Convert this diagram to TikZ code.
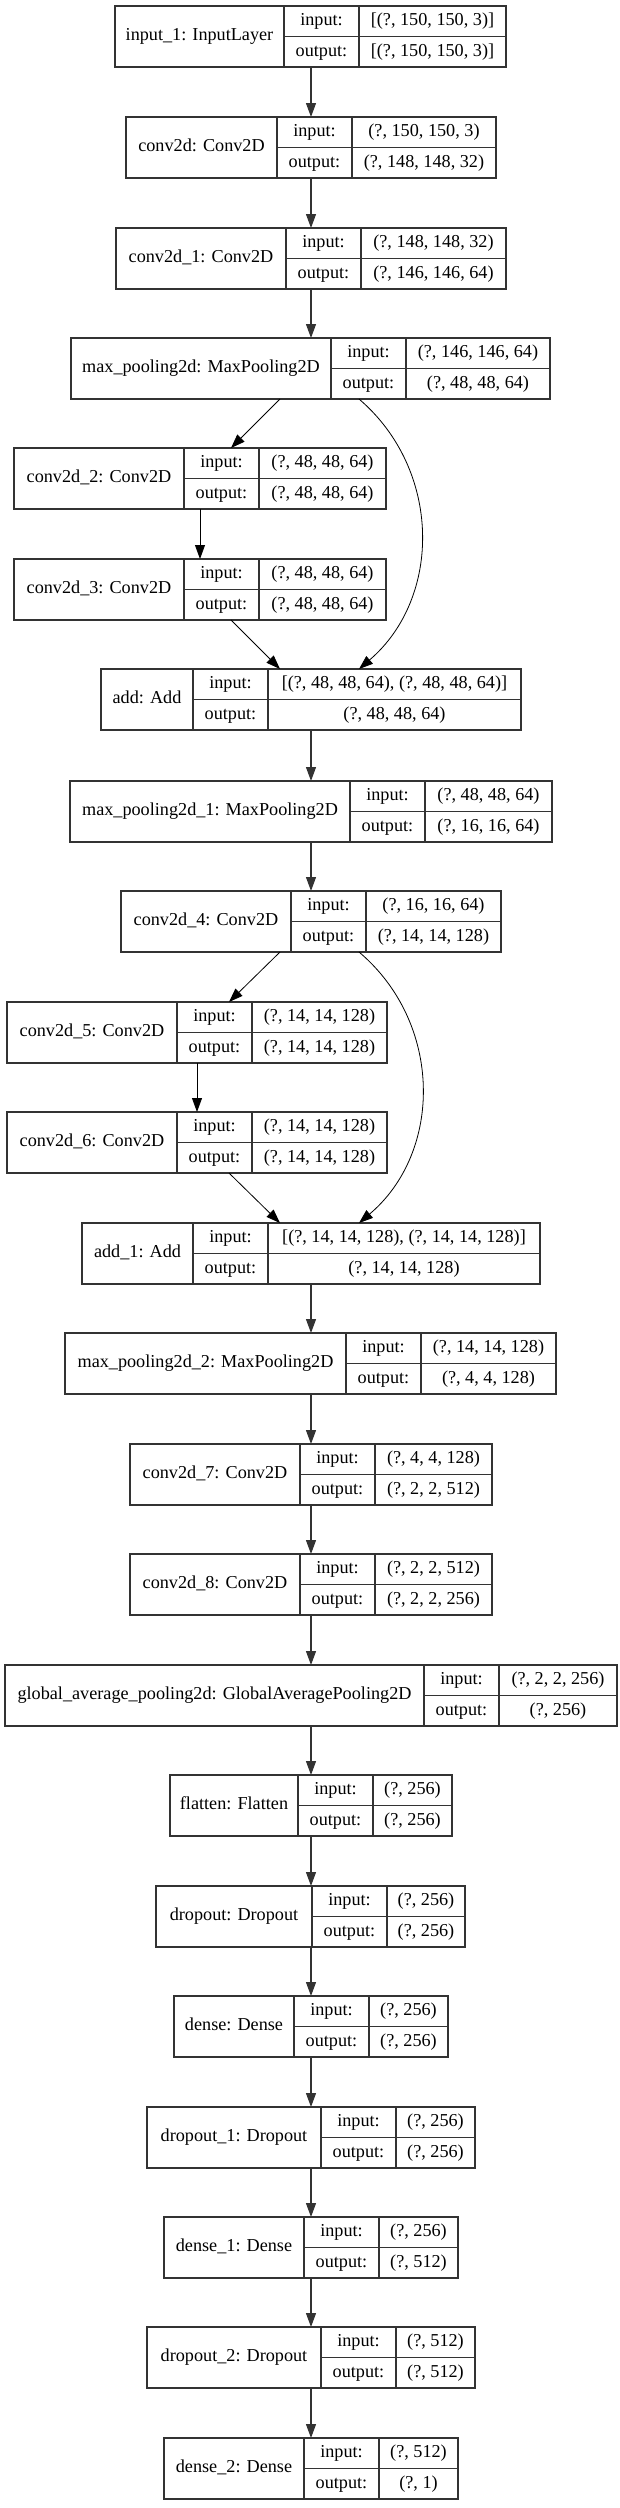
\documentclass[tikz,border=0pt]{standalone}
\usepackage{fontspec}
\setmainfont{Liberation Serif}
\usepackage{tikz}
\usetikzlibrary{arrows.meta}

% one record: name, top, left, key column, right, label, input, output
\newcommand\layer[8]{%
  \node[cell, minimum width={(#4-#3)*1pt}, minimum height=61pt] (#1) at (#3,#2) {#6};
  \node[cell, minimum width=75pt] (#1-ki) at (#1.north east) {input:};
  \node[cell, minimum width=75pt] (#1-ko) at (#1-ki.south west) {output:};
  \node[cell, minimum width={(#5-#4-75)*1pt}] (#1-vi) at (#1-ki.north east) {#7};
  \node[cell, minimum width={(#5-#4-75)*1pt}] (#1-vo) at (#1-ko.north east) {#8};
}

\begin{document}
\begin{tikzpicture}
      [ x=1pt, y=-1pt
      , >={Triangle[length=14pt, width=10pt]}
      , cell/.style={draw=black!80, line width=1.2pt, anchor=north west,
          inner sep=0pt, outer sep=0pt, minimum height=30.5pt,
          text height=12.5pt, text depth=4pt,
          font=\fontsize{18.2}{20}\selectfont}
      , flow/.style={black!80, line width=1.2pt}
      , branch/.style={black, line width=0.8pt}
      ]
    \useasboundingbox (0,0) rectangle (620,2508);

    \layer{input1}{6}{115}{284}{506}{input\_1: InputLayer}{[(?, 150, 150, 3)]}{[(?, 150, 150, 3)]}
    \layer{conv}{117}{126}{277}{496}{conv2d: Conv2D}{(?, 150, 150, 3)}{(?, 148, 148, 32)}
    \layer{conv1}{228}{116}{286}{506}{conv2d\_1: Conv2D}{(?, 148, 148, 32)}{(?, 146, 146, 64)}
    \layer{pool}{338}{71}{331}{550}{max\_pooling2d: MaxPooling2D}{(?, 146, 146, 64)}{(?, 48, 48, 64)}
    \layer{conv2}{448}{14}{184}{386}{conv2d\_2: Conv2D}{(?, 48, 48, 64)}{(?, 48, 48, 64)}
    \layer{conv3}{559}{14}{184}{386}{conv2d\_3: Conv2D}{(?, 48, 48, 64)}{(?, 48, 48, 64)}
    \layer{add}{669}{101}{193}{521}{add: Add}{[(?, 48, 48, 64), (?, 48, 48, 64)]}{(?, 48, 48, 64)}
    \layer{pool1}{781}{70}{350}{552}{max\_pooling2d\_1: MaxPooling2D}{(?, 48, 48, 64)}{(?, 16, 16, 64)}
    \layer{conv4}{891}{121}{291}{501}{conv2d\_4: Conv2D}{(?, 16, 16, 64)}{(?, 14, 14, 128)}
    \layer{conv5}{1002}{7}{177}{387}{conv2d\_5: Conv2D}{(?, 14, 14, 128)}{(?, 14, 14, 128)}
    \layer{conv6}{1112}{7}{177}{387}{conv2d\_6: Conv2D}{(?, 14, 14, 128)}{(?, 14, 14, 128)}
    \layer{add1}{1223}{82}{193}{540}{add\_1: Add}{[(?, 14, 14, 128), (?, 14, 14, 128)]}{(?, 14, 14, 128)}
    \layer{pool2}{1333}{65}{346}{556}{max\_pooling2d\_2: MaxPooling2D}{(?, 14, 14, 128)}{(?, 4, 4, 128)}
    \layer{conv7}{1444}{130}{300}{492}{conv2d\_7: Conv2D}{(?, 4, 4, 128)}{(?, 2, 2, 512)}
    \layer{conv8}{1554}{130}{300}{492}{conv2d\_8: Conv2D}{(?, 2, 2, 512)}{(?, 2, 2, 256)}
    \layer{gap}{1665}{5}{424}{617}{global\_average\_pooling2d: GlobalAveragePooling2D}{(?, 2, 2, 256)}{(?, 256)}
    \layer{flatten}{1775}{170}{298}{452}{flatten: Flatten}{(?, 256)}{(?, 256)}
    \layer{drop}{1886}{156}{312}{465}{dropout: Dropout}{(?, 256)}{(?, 256)}
    \layer{dense}{1996}{174}{294}{448}{dense: Dense}{(?, 256)}{(?, 256)}
    \layer{drop1}{2107}{147}{321}{475}{dropout\_1: Dropout}{(?, 256)}{(?, 256)}
    \layer{dense1}{2217}{164}{304}{458}{dense\_1: Dense}{(?, 256)}{(?, 512)}
    \layer{drop2}{2327}{147}{321}{475}{dropout\_2: Dropout}{(?, 512)}{(?, 512)}
    \layer{dense2}{2438}{164}{304}{458}{dense\_2: Dense}{(?, 512)}{(?, 1)}

    \coordinate (axis) at (311,0);
    \coordinate (lft) at (280,0);
    \coordinate (rgt) at (359,0);
    \coordinate (br) at (231,0);

    \path[->, flow]
    (input1.south -| axis) edge (conv.north -| axis)
    (conv.south -| axis) edge (conv1.north -| axis)
    (conv1.south -| axis) edge (pool.north -| axis)
    (add.south -| axis) edge (pool1.north -| axis)
    (pool1.south -| axis) edge (conv4.north -| axis)
    (add1.south -| axis) edge (pool2.north -| axis)
    (pool2.south -| axis) edge (conv7.north -| axis)
    (conv7.south -| axis) edge (conv8.north -| axis)
    (conv8.south -| axis) edge (gap.north -| axis)
    (gap.south -| axis) edge (flatten.north -| axis)
    (flatten.south -| axis) edge (drop.north -| axis)
    (drop.south -| axis) edge (dense.north -| axis)
    (dense.south -| axis) edge (drop1.north -| axis)
    (drop1.south -| axis) edge (dense1.north -| axis)
    (dense1.south -| axis) edge (drop2.north -| axis)
    (drop2.south -| axis) edge (dense2.north -| axis);

    % first residual block
    \path[->, branch]
    (pool.south -| lft) edge (conv2.north -| br)
    (conv2.south -| 200,0) edge (conv3.north -| 200,0)
    (conv3.south -| br) edge (add.north -| lft);
    \draw[->, branch] (pool.south -| rgt)
      .. controls +(83,71) and +(83,-71) .. (add.north -| rgt);

    % second residual block
    \path[->, branch]
    (conv4.south -| lft) edge (conv5.north -| 229,0)
    (conv5.south -| 197,0) edge (conv6.north -| 197,0)
    (conv6.south -| 229,0) edge (add1.north -| lft);
    \draw[->, branch] (conv4.south -| rgt)
      .. controls +(84,71) and +(84,-71) .. (add1.north -| rgt);

  \end{tikzpicture}
\end{document}
